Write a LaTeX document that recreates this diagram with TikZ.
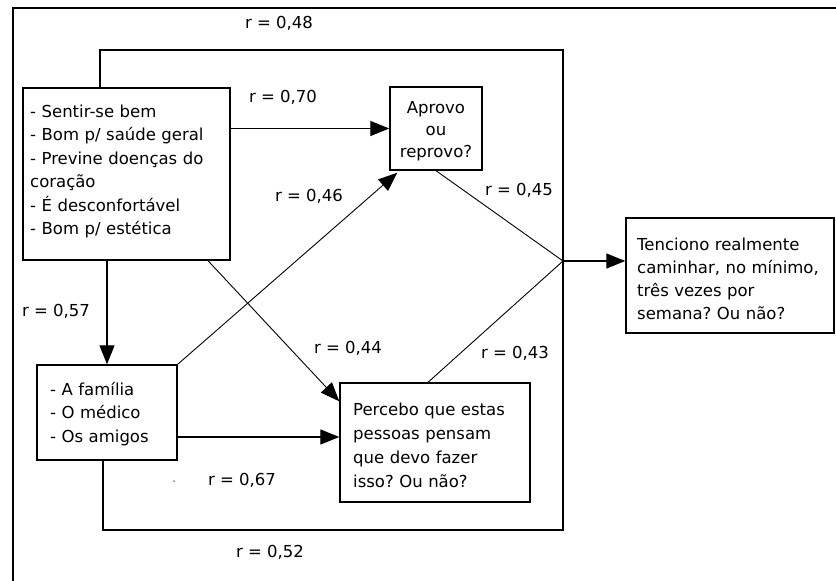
\documentclass[tikz,border=0pt]{standalone}
\usepackage{fontspec}
\setmainfont{DejaVu Sans}
\usetikzlibrary{arrows.meta}
\frenchspacing
\begin{document}
\begin{tikzpicture}[x=1pt,y=-1pt,
  box/.style={draw,line width=1.4pt,inner sep=0pt},
  txt/.style={inner sep=0pt,font=\fontsize{16.5}{23.5}\selectfont,align=left},
  lbl/.style={inner sep=0pt,font=\fontsize{16.5}{20}\selectfont},
  conn/.style={line width=1.2pt},
  diag/.style={line width=0.9pt},
  arr/.style={-{Triangle[length=19pt,width=15pt]}}]
\useasboundingbox (0,0) rectangle (836,581);
\fill[white] (0,0) rectangle (836,581);
\draw[line width=1.8pt] (13,600) -- (13,8) -- (850,8);

% boxes
\node[box,minimum width=207pt,minimum height=172pt] (A) at (126.5,174) {};
\node[txt,anchor=base west,text width=195pt] (At) at (30,117)
  {- Sentir-se bem\\- Bom p/ saúde geral\\- Previne doenças do\\coração\\- É desconfortável\\- Bom p/ estética};
\node[box,minimum width=92pt,minimum height=83pt] (ap) at (436,128.5) {};
\node[txt,anchor=base,text width=90pt,align=center,font=\fontsize{16.5}{22}\selectfont] (apt) at (436,113)
  {Aprovo\\ou\\reprovo?};
\node[box,minimum width=208pt,minimum height=115pt] (fin) at (730,275.5) {};
\node[txt,anchor=base west,text width=195pt,font=\fontsize{16.5}{23.3}\selectfont] (fint) at (637,250)
  {Tenciono realmente\\caminhar, no mínimo,\\três vezes por\\semana? Ou não?};
\node[box,minimum width=140pt,minimum height=95pt] (fam) at (107,412.5) {};
\node[txt,anchor=base west,text width=125pt] (famt) at (50,395)
  {- A família\\- O médico\\- Os amigos};
\node[box,minimum width=190pt,minimum height=119pt] (pe) at (435,442.5) {};
\node[txt,anchor=base west,text width=175pt,font=\fontsize{16.5}{24.3}\selectfont] (pet) at (353,415)
  {Percebo que estas\\pessoas pensam\\que devo fazer\\isso? Ou não?};

% loop
\coordinate (tl) at (100,50);
\coordinate (tr) at (563,50);
\coordinate (br) at (563,530);
\coordinate (bl) at (103,530);
\coordinate (j) at (563,261);
\draw[conn] (A.north -| tl) -- (tl) -- (tr) -- (br) -- (bl) -- (fam.south -| bl);

% connectors
\draw[conn,arr] (A.east |- ap.west) -- (ap.west);
\draw[conn,arr] (A.south -| fam.north) -- (fam.north);
\draw[diag,arr] (fam.north east) -- ([xshift=8pt,yshift=-2pt]ap.south west);
\draw[diag,arr] ([xshift=81.5pt]A.south) -- ([yshift=-19pt]pe.north west);
\draw[conn,arr] ([yshift=-24.5pt]fam.east) -- ([yshift=-24.5pt]fam.east -| pe.west);
\draw[diag] (ap.south) -- (j);
\draw[diag] ([xshift=-7pt]pe.north) -- (j);
\draw[conn,arr] (j) -- (j -| fin.west);
\fill (j) circle (1.6pt);
\fill[gray] (174,481) circle (1pt);

% labels
\node[lbl] (l48) at (279,23) {r = 0,48};
\node[lbl] (l70) at (283,97) {r = 0,70};
\node[lbl] (l46) at (309,196) {r = 0,46};
\node[lbl] (l57) at (56,311) {r = 0,57};
\node[lbl] (l44) at (348,348) {r = 0,44};
\node[lbl] (l67) at (242,480) {r = 0,67};
\node[lbl] (l52) at (270,552) {r = 0,52};
\node[lbl] (l45) at (519,190) {r = 0,45};
\node[lbl] (l43) at (515,353) {r = 0,43};
\end{tikzpicture}
\end{document}
